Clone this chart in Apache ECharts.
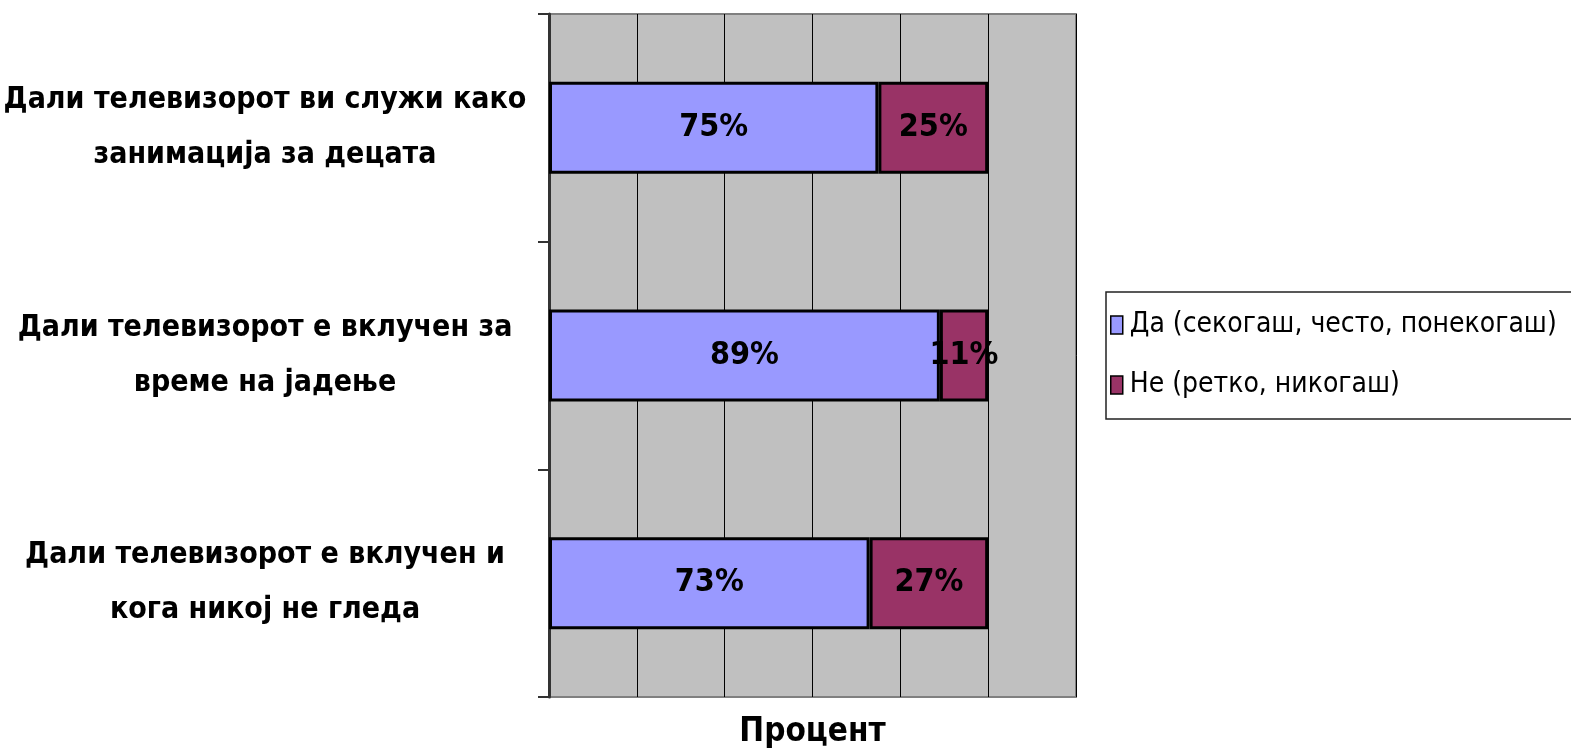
<!DOCTYPE html>
<html>
<head>
<meta charset="utf-8">
<script src="https://cdn.jsdelivr.net/npm/echarts@6/dist/echarts.min.js"></script>
<style>
  html, body { margin: 0; padding: 0; background: #ffffff; }
  #chart { width: 1571px; height: 754px; }
</style>
</head>
<body>
<div id="chart"></div>
<script>
// Survey questions about TV habits (one row per question)
const questions = [
  'Дали телевизорот ви служи како\nзанимација за децата',
  'Дали телевизорот е вклучен за\nвреме на јадење',
  'Дали телевизорот е вклучен и\nкога никој не гледа'
];
// Share of answers, in percent
const yesValues = [75, 89, 73];
const noValues = [25, 11, 27];
const seriesNames = ['Да (секогаш, често, понекогаш)', 'Не (ретко, никогаш)'];
const axisTitle = 'Процент';

const NARROW = "'Liberation Sans Narrow', 'Arial Narrow', 'DejaVu Sans Condensed', sans-serif";

const chart = echarts.init(document.getElementById('chart'), null, { renderer: 'canvas' });

const valueLabel = {
  show: true,
  position: 'inside',
  formatter: '{c}%',
  color: '#000000',
  fontFamily: NARROW,
  fontWeight: 'bold',
  fontSize: 32,
  padding: [8, 0, 0, 0]
};

chart.setOption({
  animation: false,
  backgroundColor: '#ffffff',
  grid: {
    left: 549,
    top: 14,
    width: 527,
    height: 683,
    show: true,
    backgroundColor: '#c0c0c0',
    borderColor: '#808080',
    borderWidth: 2,
    containLabel: false,
    outerBoundsMode: 'none'
  },
  legend: {
    orient: 'vertical',
    left: 1106,
    top: 292,
    padding: [19, 40, 20, 4],
    itemGap: 32,
    itemWidth: 12,
    itemHeight: 18,
    borderColor: '#222222',
    borderWidth: 1.5,
    backgroundColor: '#ffffff',
    icon: 'rect',
    itemStyle: { borderColor: '#000000', borderWidth: 1.5 },
    textStyle: {
      fontFamily: NARROW,
      fontSize: 28,
      color: '#000000',
      padding: [0, 0, 0, 2]
    },
    data: seriesNames
  },
  xAxis: {
    type: 'value',
    min: 0,
    max: 120,
    interval: 20,
    name: axisTitle,
    nameLocation: 'middle',
    nameGap: 19,
    nameTextStyle: {
      fontFamily: NARROW,
      fontWeight: 'bold',
      fontSize: 33,
      color: '#000000'
    },
    axisLine: { show: false },
    axisTick: { show: false },
    axisLabel: { show: false },
    splitLine: { show: true, lineStyle: { color: '#000000', width: 1 } }
  },
  yAxis: {
    type: 'category',
    inverse: true,
    data: questions,
    axisLine: { show: true, lineStyle: { color: '#333333', width: 3 } },
    axisTick: { show: true, length: 11, lineStyle: { color: '#333333', width: 2 } },
    splitLine: { show: false },
    axisLabel: {
      margin: 284,
      align: 'center',
      fontFamily: NARROW,
      fontWeight: 'bold',
      fontSize: 30,
      lineHeight: 55,
      padding: [12, 0, 0, 0],
      color: '#000000'
    }
  },
  series: [
    {
      name: seriesNames[0],
      type: 'bar',
      stack: 'answers',
      barWidth: 92,
      data: yesValues,
      itemStyle: { color: '#9999ff', borderColor: '#000000', borderWidth: 3 },
      label: valueLabel
    },
    {
      name: seriesNames[1],
      type: 'bar',
      stack: 'answers',
      barWidth: 92,
      data: noValues,
      itemStyle: { color: '#993366', borderColor: '#000000', borderWidth: 3 },
      label: valueLabel
    }
  ]
});
</script>
</body>
</html>
